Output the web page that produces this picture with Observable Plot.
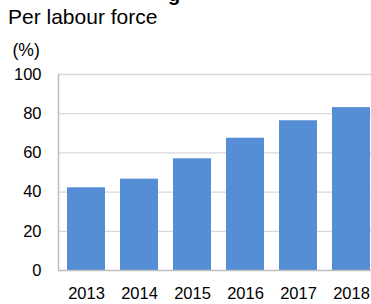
<!DOCTYPE html>
<html>
<head>
<meta charset="utf-8">
<script src="https://cdn.jsdelivr.net/npm/d3@7"></script>
<script src="https://cdn.jsdelivr.net/npm/@observablehq/plot@0.6"></script>
<style>
  html, body { margin: 0; padding: 0; background: #fff; overflow: hidden; }
  #wrap { position: relative; width: 371px; height: 304px; overflow: hidden; font-family: "Liberation Sans", Arial, sans-serif; color: #000; }
  #title { position: absolute; left: 168px; top: -16px; font-size: 20px; line-height: 20px; font-weight: bold; white-space: nowrap; }
  #subtitle { position: absolute; left: 8px; top: 5px; font-size: 21px; line-height: 24px; white-space: nowrap; }
  #unit { position: absolute; left: 12.5px; top: 39.5px; font-size: 17.5px; line-height: 20px; white-space: nowrap; }
  #chart { position: absolute; left: 0; top: 0; width: 379px; }
  #chart svg { max-width: none !important; }
</style>
</head>
<body>
<div id="wrap">
  <div id="chart"></div>
  <div id="title">g</div>
  <div id="subtitle">Per labour force</div>
  <div id="unit">(%)</div>
</div>
<script>
const years = ["2013", "2014", "2015", "2016", "2017", "2018"];
const values = [42.2, 46.6, 57, 67.5, 76.4, 83.1];
const yTicks = [0, 20, 40, 60, 80, 100];

const data = years.map((y, i) => ({year: y, value: values[i]}));

const chart = Plot.plot({
  width: 379,
  height: 304,
  marginTop: 74,
  marginBottom: 34,
  marginLeft: 58,
  marginRight: 0,
  style: {fontFamily: "'Liberation Sans', Arial, sans-serif", fontSize: "16.5px", color: "#000", background: "transparent", overflow: "visible", maxWidth: "none"},
  x: {domain: years, paddingInner: 0.29, paddingOuter: 0.15, label: null},
  y: {domain: [0, 100], ticks: yTicks, label: null},
  marks: [
    Plot.ruleY(yTicks.filter(d => d > 0), {stroke: "#d9d9d9", strokeWidth: 1.3}),
    Plot.barY(data, {x: "year", y: "value", fill: "#558ed5"}),
    Plot.ruleY([0], {stroke: "#bfbfbf", strokeWidth: 1.5}),
    Plot.frame({anchor: "left", stroke: "#bfbfbf", strokeWidth: 1.5}),
    Plot.axisY({ticks: yTicks, tickSize: 0, tickPadding: 17, fontSize: 16.5}),
    Plot.axisX({tickSize: 0, tickPadding: 17, fontSize: 16.5})
  ]
});
document.getElementById("chart").appendChild(chart);
</script>
</body>
</html>
